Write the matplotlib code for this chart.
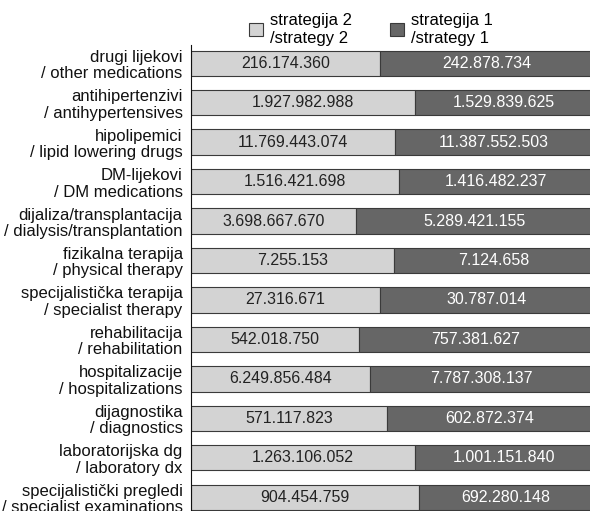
import matplotlib.pyplot as plt

plt.rcParams['font.family'] = ['Liberation Sans', 'DejaVu Sans']

# kategorije / categories (top to bottom)
labels = [
    "drugi lijekovi\n/ other medications",
    "antihipertenzivi\n/ antihypertensives",
    "hipolipemici\n/ lipid lowering drugs",
    "DM-lijekovi\n/ DM medications",
    "dijaliza/transplantacija\n/ dialysis/transplantation",
    "fizikalna terapija\n/ physical therapy",
    "specijalistička terapija\n/ specialist therapy",
    "rehabilitacija\n/ rehabilitation",
    "hospitalizacije\n/ hospitalizations",
    "dijagnostika\n/ diagnostics",
    "laboratorijska dg\n/ laboratory dx",
    "specijalistički pregledi\n/ specialist examinations",
]
strategy2 = [216174360, 1927982988, 11769443074, 1516421698, 3698667670, 7255153,
             27316671, 542018750, 6249856484, 571117823, 1263106052, 904454759]
strategy1 = [242878734, 1529839625, 11387552503, 1416482237, 5289421155, 7124658,
             30787014, 757381627, 7787308137, 602872374, 1001151840, 692280148]

legend_labels = ["strategija 2\n/strategy 2", "strategija 1\n/strategy 1"]


def fmt(v):
    return f"{v:,}".replace(",", ".")


fig = plt.figure(figsize=(5.9, 5.11), dpi=100)
ax = fig.add_axes([191 / 590, (511 - 521) / 511, 402 / 590, (521 - 45) / 511])

light = '#d3d3d3'
dark = '#666666'
edge = '#3a3a3a'

n = len(labels)
pos = list(range(n))
tot = [a + b for a, b in zip(strategy2, strategy1)]
f2 = [a / t for a, t in zip(strategy2, tot)]
f1 = [b / t for b, t in zip(strategy1, tot)]

h = 0.64
b2 = ax.barh(pos, f2, height=h, color=light, edgecolor=edge, linewidth=0.8, label=legend_labels[0])
b1 = ax.barh(pos, f1, left=f2, height=h, color=dark, edgecolor=edge, linewidth=0.8, label=legend_labels[1])

for i in range(n):
    ax.text(f2[i] / 2, i, fmt(strategy2[i]), ha='center', va='center', fontsize=11.5, color='#222222')
    ax.text(f2[i] + f1[i] / 2, i, fmt(strategy1[i]), ha='center', va='center', fontsize=11.5, color='white')

ax.set_xlim(0, 1)
ax.set_ylim(n - 1 + 0.6, -0.46)
ax.set_yticks(pos)
ax.set_yticklabels(labels, fontsize=12, color='#111111', linespacing=1.12)
ax.tick_params(axis='y', length=0, pad=6)
ax.set_xticks([])
for s in ['top', 'right', 'bottom']:
    ax.spines[s].set_visible(False)
ax.spines['left'].set_color('#111111')

fig.legend(handles=[b2, b1], labels=legend_labels, loc='upper left', bbox_to_anchor=(240 / 590, 1 - 4 / 511),
           ncol=2, frameon=False, fontsize=12, handlelength=0.8, handleheight=0.8,
           handletextpad=0.45, columnspacing=2.3, borderaxespad=0.15, labelspacing=0.2)

fig.savefig('out.png', dpi=100)
